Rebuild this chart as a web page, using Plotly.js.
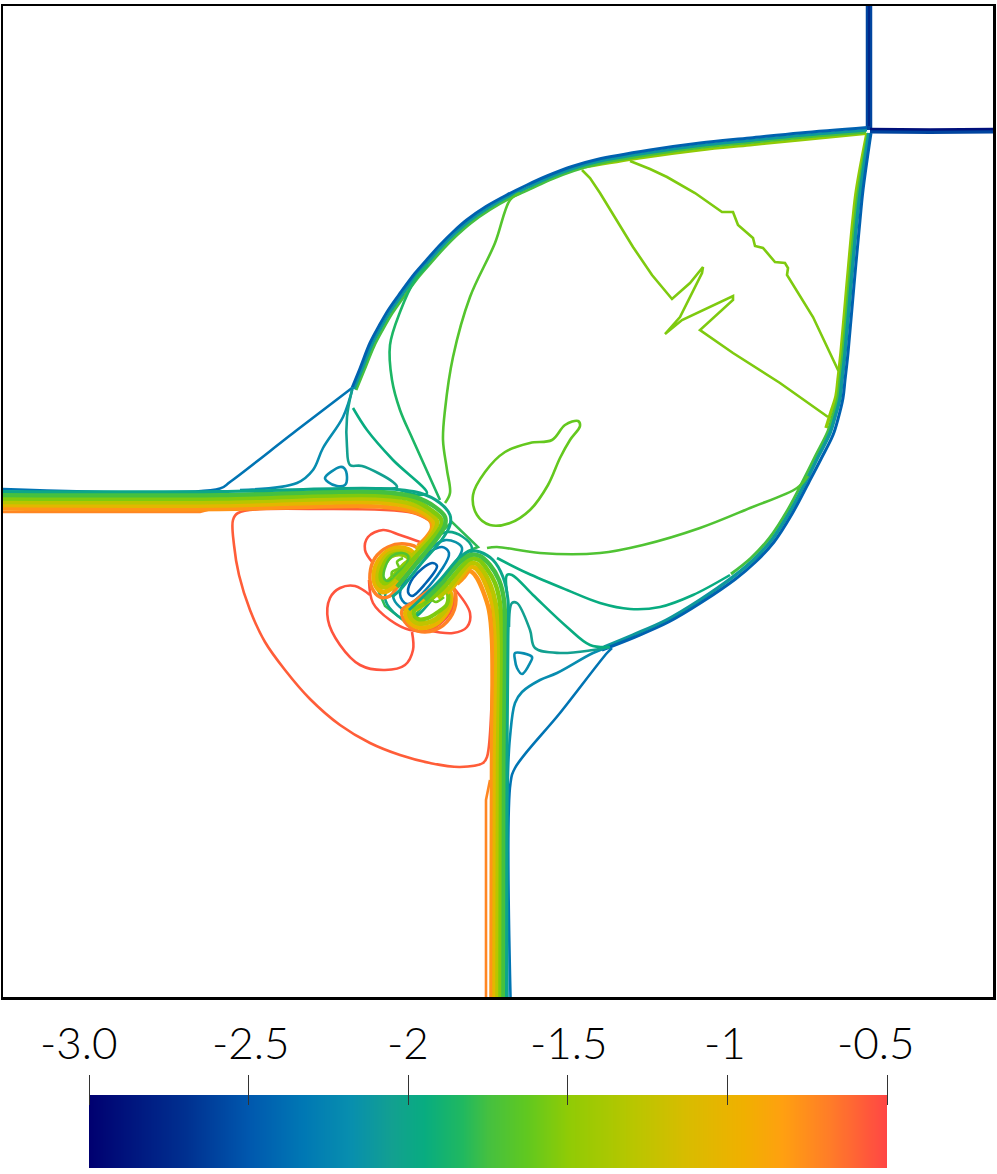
<!DOCTYPE html>
<html>
<head>
<meta charset="utf-8">
<script src="https://cdn.plot.ly/plotly-3.0.1.min.js"></script>
<style>html, body { margin: 0; padding: 0; background: #fff; }</style>
</head>
<body>
<div id="plot" style="width:997px;height:1174px"></div>
<script>
// colour bar
const tickLevels = [-3, -2.5, -2, -1.5, -1, -0.5];
const tickLabels = ["-3.0", "-2.5", "-2", "-1.5", "-1", "-0.5"];
const tickLabelShift = [-10, 2, 0, 1, -2, -11];
const stopLevels = [-3, -2.7, -2.5, -2.33, -2.18, -2.05, -1.95, -1.83, -1.75, -1.63, -1.5, -1.3, -1.13, -0.95, -0.83, -0.68, -0.5];
const stopColors = ["#000070", "#003090", "#0058ae", "#0078b4", "#088fae", "#12a090", "#08ac80", "#20b860", "#45c040",
    "#60c820", "#90cb05", "#b8c600", "#d8bc00", "#f0b000", "#ffa010", "#ff7c28", "#ff4545"];

// contour lines in grid units: [x, y]
// top right corner
const cornerV = [[869, 6], [869, 70], [869, 130]];
const cornerVCore = [[869, 6], [869, 70], [869, 126]];
const cornerHBlue = [[870, 131.5], [930, 132], [993, 131.5]];
const cornerHNavy = [[870, 129], [930, 129.5], [993, 129]];

// upper shock
const upperBlue = [[352, 388], [360, 368.5], [370, 343], [379, 326], [388.3, 310], [401, 292], [415, 273.3], [427, 259.5], [440, 245], [453, 232], [466.7, 220], [486, 206.5], [506.7, 195], [527, 185], [547, 176], [572, 166.5], [597, 159.5], [650, 150], [700, 143], [750, 138], [800, 133], [867, 127.5]];
const upperTeal = [[354, 389], [362, 369.5], [372, 344.5], [381, 327.5], [390.3, 311.5], [403, 293.5], [417, 274.8], [429, 261], [442, 246.5], [455, 233.5], [468.7, 221.5], [488, 208], [508.2, 196.5], [528.5, 187], [548, 178], [573, 168.5], [598, 161.5], [650, 152.5], [700, 145.5], [750, 140.5], [800, 135.5], [867, 130]];
const upperGreen = [[356, 390], [364, 370.5], [374, 346], [383, 329], [392.3, 313], [405, 295], [419, 276.3], [431, 262.5], [444, 248], [457, 235], [470.7, 223], [490, 209.5], [510, 198], [530, 189], [549, 180], [574, 170.5], [599, 163.5], [650, 154.5], [700, 147.5], [750, 142.5], [800, 137.5], [866, 132]];
const upperLime = [[585, 167], [640, 158], [700, 150], [750, 145], [800, 140], [866, 133.5]];

// right shock
const rightBlue = [[871, 133], [863, 190], [860, 220], [854, 285], [848, 353], [845, 380], [843, 398], [838, 419], [833, 435], [821, 459], [809, 482], [792, 514], [774, 542], [755.5, 562], [735.5, 579], [702, 602], [668.5, 622], [635, 637], [602, 650]];
const rightTeal = [[869, 133], [860.5, 190], [857, 220], [851, 285], [845, 353], [842, 380], [840, 398], [835, 417], [830, 433], [818, 457], [806.7, 480], [790, 511.7], [771.7, 540], [753.3, 560], [733.3, 576.7], [700, 600], [666.7, 620], [633, 635], [604, 647]];
const rightGreen = [[868, 133], [858.5, 190], [855, 220], [849, 285], [843, 353], [840, 380], [838, 397], [833, 415], [828, 431], [816, 455], [804.5, 478], [788, 509.5], [769.5, 538], [751, 558], [731, 574]];
const rightLime = [[867, 133], [856.5, 190], [853, 220], [847, 285], [841, 353], [838, 380], [836, 396], [831, 412], [826, 428]];

// lines inside the big lobe
const limeZigzag = [[582, 170], [590, 178], [600, 193], [615, 218], [633, 247], [652, 275], [672, 299], [690, 283], [703, 267], [702, 273], [687, 303], [680, 317], [665, 334], [682, 320], [733, 296], [733, 300], [700, 330], [733, 353], [780, 383], [828, 417]];
const limeWavy = [[630, 161], [650, 169], [667, 177], [695, 193], [722, 212], [733, 212], [738, 225], [753, 238], [755, 246], [763, 248], [775, 262], [785, 263], [788, 268], [787, 275], [813, 317], [825, 342], [838, 370], [840, 370]];
const limeBlob = [[578, 421], [565, 425], [552, 440], [530, 443], [505, 452], [485, 472], [473, 495], [477, 515], [490, 525], [510, 523], [530, 510], [548, 485], [560, 458], [570, 440], [580, 426], [578, 421]];
const leftGreenInner = [[520, 193], [510, 200], [495, 243], [470, 297], [453, 357], [445, 410], [443, 440], [447, 470], [450, 493], [445, 503]];
const leftGreenOuter = [[428, 265], [415, 280], [400, 312], [390, 345], [392, 380], [400, 410], [413, 440], [440, 500]];
const lowerGreen = [[487, 548], [497, 547], [540, 553], [600, 553], [643, 545], [700, 528], [750, 508], [797, 488], [808, 476]];
const lowerTeal = [[497, 558], [527, 573], [567, 590], [600, 603], [630, 609], [660, 607], [693, 595], [730, 575]];

// left triangle
const triBlue = [[3, 489], [220, 488.5], [230, 482], [297, 430], [352, 388]];
const triTealOuter = [[240, 490], [297, 483], [313, 470], [323, 448], [343, 417], [353, 387]];
const triTeal = [[352, 390], [347, 417], [347, 447], [350, 465], [362, 466], [393, 482], [397, 487], [380, 489]];
const triGreen = [[353, 408], [367, 430], [393, 460], [427, 493], [420, 495], [400, 490]];
const triSmall = [[325, 478], [340, 467], [344, 468], [347, 477], [345, 485], [337, 486], [328, 482], [325, 478]];

// lower triangle
const lowBlue = [[510.5, 997], [510.5, 783], [515, 768], [560, 713], [607, 653], [612, 648]];
const lowBlueTeal = [[507.5, 997], [508, 773], [510, 737], [515, 703], [522, 692], [540, 680], [557, 673], [593, 653], [609, 647]];
const lowTeal = [[509, 627], [512, 603], [517, 603], [530, 630], [535, 648], [560, 653], [593, 650], [610, 647]];
const lowGreen = [[507, 593], [507, 575], [512, 575], [533, 595], [567, 627], [590, 645], [610, 647]];
const lowSmall = [[515, 653], [532, 657], [530, 663], [522, 674], [517, 668], [515, 660], [515, 653]];

// red lines
const redLeftStub = [[3, 512], [200, 512], [215, 508]];
const redBig = [[430, 521], [413, 513], [327, 509], [238, 513], [233, 520], [234, 545], [239, 575], [250, 610], [265, 642], [285, 670], [310, 699], [340, 725], [370, 743], [400, 755], [430, 763], [460, 767], [483, 763], [487, 757], [492, 693], [493, 627], [488, 585], [477, 568], [468, 568], [457, 577]];
const orangeBottom = [[486, 997], [486, 800], [490, 780]];
const redLobeLow = [[412, 632], [413, 650], [405, 665], [385, 670], [360, 665], [340, 645], [328, 620], [330, 598], [340, 588], [355, 586], [370, 595]];
const redLobeTop = [[420, 542], [400, 535], [383, 530], [368, 537], [365, 550], [373, 563]];
const redLobeRight = [[453, 587], [470, 613], [467, 627], [453, 633], [427, 630]];
const redRim = [[369, 580], [373, 603], [390, 620], [410, 630], [430, 630], [450, 613], [455, 593]];

// nested loops in the channel between the two vortices
const channel1 = [[408, 592], [413, 578], [432, 563], [437, 566], [425, 584], [412, 596], [408, 592]];
const channel2 = [[400, 594], [420, 560], [442, 547], [449, 553], [430, 585], [407, 604], [400, 594]];
const channel3 = [[393, 596], [425, 553], [446, 540], [462, 548], [436, 586], [410, 612], [393, 596]];
const channel4 = [[385, 597], [447, 532], [472, 548], [440, 590], [408, 620], [385, 597]];
const channel5 = [[378, 590], [452, 522], [478, 547], [468, 551], [440, 585], [408, 624], [385, 606], [378, 590]];

// band on the left, teal side to orange side, running into the left vortex
const bandA0 = [[3, 491.5], [220, 491.5], [380, 488.5], [420, 493], [440, 503], [450, 515], [450, 525], [443, 538], [420, 565], [400, 590], [392, 597]];
const bandA1 = [[3, 495], [220, 495], [380, 492], [415, 497], [435, 507], [445, 517], [445, 525], [438, 537], [415, 565], [397, 587]];
const bandA2 = [[3, 498.5], [220, 498.5], [380, 495.5], [413, 500], [431, 510], [441, 519], [441, 526], [433, 538], [412, 561], [397, 580]];
const bandA3 = [[3, 502], [220, 502], [380, 499], [412, 504], [428, 512], [437, 521], [436, 528], [429, 539], [412, 556]];
const bandA4 = [[3, 505], [220, 505.5], [380, 502.5], [413, 508], [428, 516], [434, 524], [432, 532], [425, 542], [416, 549]];
const bandA5 = [[3, 508.5], [220, 509], [380, 506.5], [415, 512], [430, 520], [432, 528], [426, 538], [418, 546]];

// band at the bottom, teal side to orange side, running into the right vortex
const bandB0 = [[506.5, 997], [507, 760], [508, 640], [508, 600], [503, 577], [493, 560], [480, 552], [470, 551], [460, 557], [440, 580], [423, 597], [409, 610]];
const bandB1 = [[503.5, 997], [504, 760], [505, 640], [504, 600], [499, 580], [490, 565], [480, 556], [470, 555], [460, 562], [442, 583], [425, 600]];
const bandB2 = [[500.5, 997], [501, 760], [502, 640], [500, 603], [495, 583], [487, 569], [479, 560], [470, 559], [462, 566], [445, 586], [432, 598]];
const bandB3 = [[497.5, 997], [498, 760], [499, 640], [496, 605], [491, 586], [484, 572], [477, 564], [470, 563], [463, 570], [449, 588], [438, 598]];
const bandB4 = [[494.5, 997], [495, 760], [496, 640], [493, 607], [487, 588], [481, 575], [475, 568], [470, 567], [464, 573], [453, 587], [447, 593]];
const bandB5 = [[491.5, 997], [492, 760], [492, 640], [489, 610], [483, 591], [477, 578], [472, 572], [469, 571], [464, 577], [457, 584]];

// left vortex, rim to core
const leftV1 = [[418, 549], [405, 544], [388, 547], [375, 558], [370, 574], [372, 588], [380, 597], [390, 596], [400, 583], [415, 562], [418, 549]];
const leftV2 = [[412, 552], [403, 548], [390, 550], [379, 560], [374, 574], [376, 586], [383, 592], [392, 588], [406, 572], [414, 558], [412, 552]];
const leftV3 = [[410, 555], [402, 552], [391, 553], [382, 562], [378, 574], [379, 584], [384, 587], [393, 582], [405, 568], [411, 560], [410, 555]];
const leftV4 = [[408, 557], [400, 554], [391, 556], [385, 563], [381, 574], [382, 581], [385, 583], [393, 577], [403, 566], [409, 560], [408, 557]];
const leftV5 = [[402, 553], [392, 556], [386, 565], [384, 578], [388, 581], [397, 573], [407, 563], [408, 556], [402, 553]];
const leftSquiggle = [[403, 558], [397, 562], [399, 568], [392, 572], [392, 578]];

// right vortex, rim to core
const rightV1 = [[452, 586], [456, 600], [450, 618], [435, 630], [418, 631], [405, 622], [402, 610], [412, 603], [430, 590], [445, 582], [452, 586]];
const rightV2 = [[449, 590], [451, 601], [445, 615], [432, 626], [418, 627], [408, 620], [406, 611], [414, 606], [431, 594], [443, 587], [449, 590]];
const rightV3 = [[447, 592], [449, 602], [442, 614], [430, 622], [418, 623], [411, 618], [410, 612], [418, 608], [433, 597], [442, 590], [447, 592]];
const rightV4 = [[447, 592], [447, 604], [438, 612], [428, 618], [418, 619], [414, 615], [415, 609], [424, 604], [436, 594], [447, 592]];
const rightSquiggle = [[424, 604], [431, 600], [436, 602], [444, 597]];

// drawn in this order: points, level, line width, smooth
const contours = [
    [channel5, -1.8, 2.5, false], [channel4, -2.0, 2.6, true], [channel3, -2.15, 2.6, true],
    [channel2, -2.3, 2.6, true], [channel1, -2.45, 2.6, true],
    [cornerV, -2.6, 6.5, false], [cornerVCore, -2.75, 2, false], [cornerHBlue, -2.6, 4, false], [cornerHNavy, -2.9, 2.5, false],
    [upperLime, -1.5, 3, true], [upperGreen, -1.75, 3, true], [upperTeal, -2.1, 3, true], [upperBlue, -2.45, 3, true],
    [rightLime, -1.5, 3.5, true], [rightGreen, -1.75, 3, true], [rightTeal, -2.1, 3.5, true], [rightBlue, -2.45, 3, true],
    [limeZigzag, -1.55, 2.6, false], [limeWavy, -1.55, 2.6, false], [limeBlob, -1.62, 2.6, true],
    [leftGreenInner, -1.68, 2.6, true], [leftGreenOuter, -1.85, 2.6, true], [lowerGreen, -1.7, 2.6, true], [lowerTeal, -1.95, 2.6, true],
    [triBlue, -2.35, 2.6, true], [triTealOuter, -2.2, 2.6, true], [triTeal, -2.05, 2.6, true], [triGreen, -1.95, 2.6, true], [triSmall, -2.2, 2.6, true],
    [lowBlue, -2.35, 2.6, true], [lowBlueTeal, -2.2, 2.6, true], [lowTeal, -2.05, 2.6, true], [lowGreen, -1.95, 2.6, true], [lowSmall, -2.2, 2.6, true],
    [redLeftStub, -0.72, 2.6, false], [redBig, -0.58, 2.6, true], [orangeBottom, -0.72, 2.6, false],
    [redLobeLow, -0.55, 2.6, true], [redLobeTop, -0.55, 2.6, true], [redLobeRight, -0.55, 2.6, true], [redRim, -0.55, 2.6, true],
    [leftV1, -0.7, 3.5, true], [leftV2, -1.0, 5, true], [leftV3, -1.25, 5, true], [leftV4, -1.5, 5, true], [leftV5, -1.7, 2.5, true], [leftSquiggle, -1.6, 2.6, true],
    [rightV1, -0.7, 3.5, true], [rightV2, -1.0, 5, true], [rightV3, -1.25, 5, true], [rightV4, -1.55, 4, true], [rightSquiggle, -1.6, 2.6, true],
    [bandA5, -0.78, 4.5, true], [bandA4, -1.05, 4.5, true], [bandA3, -1.3, 4.5, true], [bandA2, -1.55, 4.5, true], [bandA1, -1.75, 4.5, true], [bandA0, -2.0, 3, true],
    [bandB5, -0.78, 4.5, true], [bandB4, -1.05, 4.5, true], [bandB3, -1.3, 4.5, true], [bandB2, -1.55, 4.5, true], [bandB1, -1.75, 4.5, true], [bandB0, -2.0, 3, true]
];

// same colour map as the bar, for a single level
function levelColor(level) {
    let i = 0;
    while (i < stopLevels.length - 2 && level > stopLevels[i + 1]) i++;
    const t = (level - stopLevels[i]) / (stopLevels[i + 1] - stopLevels[i]);
    const a = stopColors[i], b = stopColors[i + 1];
    const rgb = [1, 3, 5].map(k => {
        const p = parseInt(a.substr(k, 2), 16), q = parseInt(b.substr(k, 2), 16);
        return Math.round(p + (q - p) * t);
    });
    return "rgb(" + rgb.join(",") + ")";
}

const traces = contours.map(([pts, level, width, smooth]) => ({
    x: pts.map(p => p[0]),
    y: pts.map(p => p[1]),
    type: "scatter",
    mode: "lines",
    hoverinfo: "skip",
    line: { color: levelColor(level), width: width, shape: smooth ? "spline" : "linear", smoothing: 1 }
}));

// the colour bar is a heatmap on its own axes
const span = stopLevels[stopLevels.length - 1] - stopLevels[0];
traces.push({
    x: stopLevels,
    y: [0, 36, 73],
    z: [stopLevels, stopLevels],
    type: "heatmap",
    xaxis: "x2",
    yaxis: "y2",
    zmin: -3,
    zmax: -0.5,
    zsmooth: "best",
    showscale: false,
    hoverinfo: "skip",
    colorscale: stopLevels.map((v, i) => [(v - stopLevels[0]) / span, stopColors[i]])
});

// tick labels sit off centre at the ends of the bar, so they are annotations
const tickAnnotations = tickLevels.map((v, i) => ({
    x: v,
    xref: "x2",
    y: (1174 - 1042) / 1174,
    yref: "paper",
    yanchor: "middle",
    xshift: tickLabelShift[i],
    text: tickLabels[i],
    showarrow: false,
    font: { family: "Lato, sans-serif", size: 44, weight: 300, color: "#000" }
}));

const layout = {
    width: 997,
    height: 1174,
    margin: { l: 0, r: 0, t: 0, b: 0 },
    paper_bgcolor: "#fff",
    plot_bgcolor: "#fff",
    showlegend: false,
    annotations: tickAnnotations,
    xaxis: {
        domain: [3 / 997, 993 / 997], range: [3, 993], anchor: "y",
        showgrid: false, zeroline: false, showticklabels: false, ticks: "",
        showline: true, mirror: true, linecolor: "#000", linewidth: 2.5
    },
    yaxis: {
        domain: [(1174 - 997) / 1174, (1174 - 6) / 1174], range: [997, 6], anchor: "x",
        showgrid: false, zeroline: false, showticklabels: false, ticks: "",
        showline: true, mirror: true, linecolor: "#000", linewidth: 2.5
    },
    xaxis2: {
        domain: [89 / 997, 887 / 997], range: [-3, -0.5], anchor: "free", position: (1174 - 1105) / 1174, side: "top",
        showgrid: false, zeroline: false, showline: false, showticklabels: false,
        tickmode: "array", tickvals: tickLevels,
        ticks: "outside", ticklen: 30, tickwidth: 1, tickcolor: "#333"
    },
    yaxis2: {
        domain: [(1174 - 1168) / 1174, (1174 - 1095) / 1174], range: [0, 73], anchor: "x2",
        showgrid: false, zeroline: false, showline: false, showticklabels: false, ticks: ""
    }
};

Plotly.newPlot("plot", traces, layout, { displayModeBar: false, staticPlot: true });
</script>
</body>
</html>
